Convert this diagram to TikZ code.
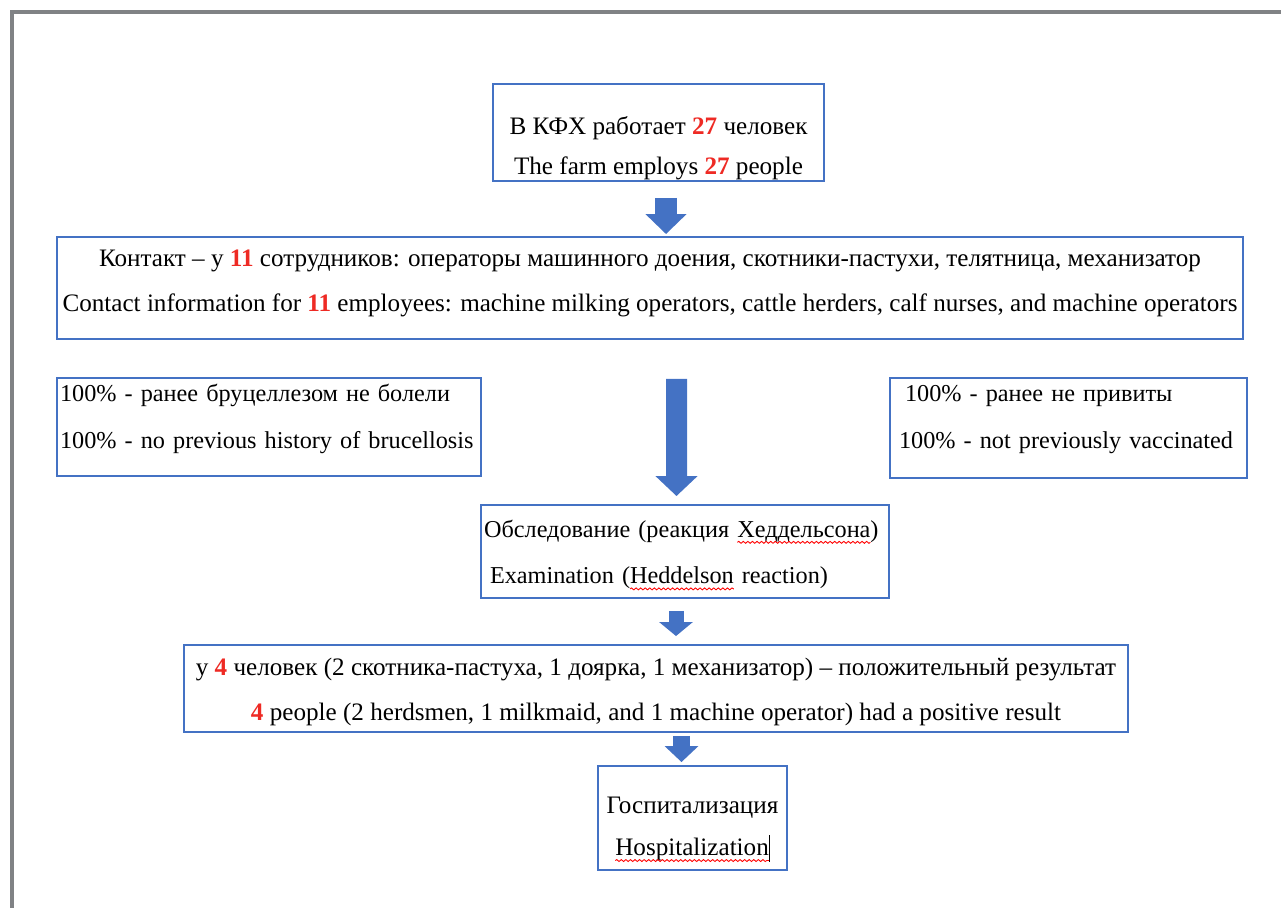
\documentclass[tikz,border=0pt]{standalone}
\usepackage{fontspec}
\setmainfont{Liberation Serif}
\usetikzlibrary{arrows.meta, calc, decorations.pathmorphing}

\definecolor{boxblue}{HTML}{4472C4}
\definecolor{numred}{HTML}{EE2A24}
\definecolor{framegray}{HTML}{808285}

\newcommand{\rednum}[1]{\textcolor{numred}{\textbf{#1}}}
\newcommand{\spellmark}[1]{\tikz[baseline=(w.base), x=1cm, y=1cm]{\node[inner sep=0pt, outer sep=0pt, minimum width=0pt, minimum height=0pt, text width=, align=none] (w) {#1};
  \draw[red, line width=0.5pt, overlay, decorate, decoration={snake, amplitude=0.55pt, segment length=2.6pt}] ([yshift=-3pt]w.base west) -- ([yshift=-3pt]w.base east);}}

\begin{document}
\begin{tikzpicture}[
    x=0.02cm, y=-0.02cm,
    box/.style={draw=boxblue, line width=1.1pt, rectangle, inner sep=2pt, align=center, font=\fontsize{14.3}{25.5}\selectfont},
    sidebox/.style={box, align=left, font=\fontsize{13.8}{26.5}\selectfont},
    blockarrow/.style n args={3}{boxblue, line width=#1, -{Triangle[width=#2, length=#3]}}
]
\useasboundingbox (0,0) rectangle (1281,908);

% frame of the screenshot
\draw[framegray, line width=2.3pt] (12,908) -- (12,12) -- (1281,12);

\node[box, inner ysep=0pt, minimum width=6.62cm, minimum height=1.94cm] (farm) at (658.5,132.5) {\rule{0pt}{28pt}В КФХ работает \rednum{27} человек\\[-3pt]
The farm employs \rednum{27} people};

\node[box, minimum width=23.72cm, minimum height=2.04cm] (contact) at (650,288) {Контакт – у \rednum{11} сотрудников: операторы машинного доения, скотники-пастухи, телятница, механизатор\\
Contact information for \rednum{11} employees: machine milking operators, cattle herders, calf nurses, and machine operators\rule[-8pt]{0pt}{8pt}};

\node[sidebox, text width=8.36cm, inner xsep=0.06cm, minimum height=1.96cm] (history) at (269,427) {100\% - ранее бруцеллезом не болели\\
100\% - no previous history of brucellosis\rule[-12pt]{0pt}{12pt}};

\node[sidebox, text width=6.78cm, inner xsep=0.18cm, minimum height=2cm] (vaccine) at (1068.5,428) {\hspace*{0.12cm}100\% - ранее не привиты\\
100\% - not previously vaccinated\rule[-12.5pt]{0pt}{12.5pt}};

\node[sidebox, text width=8.04cm, inner xsep=0.06cm, minimum height=1.86cm] (exam) at (685,551.5) {\rule{0pt}{13pt}Обследование (реакция \spellmark{Хеддельсона})\\
\hspace*{0.12cm}Examination (\spellmark{Heddelson} reaction)};

\node[box, minimum width=18.88cm, minimum height=1.74cm] (result) at (656,688.5) {\rule{0pt}{13.5pt}у \rednum{4} человек (2 скотника-пастуха, 1 доярка, 1 механизатор) – положительный результат\\
\rednum{4} people (2 herdsmen, 1 milkmaid, and 1 machine operator) had a positive result};

\node[box, minimum width=3.78cm, minimum height=2.08cm] (hosp) at (692.5,818) {\rule{0pt}{22pt}Госпитализация\\[-1.5pt]
\spellmark{Hospitalization}\rule[-0.25em]{0.5pt}{1.05em}};

% block arrows
\draw[blockarrow={0.44cm}{0.8cm}{0.4cm}] ($(farm.south)+(7.5,16)$) -- ($(farm.south |- contact.north)+(7.5,-2)$);
\draw[blockarrow={0.42cm}{0.82cm}{0.4cm}] ($(contact.south)+(26.5,39)$) -- ($(exam.north)+(-8.5,-8)$);
\draw[blockarrow={0.3cm}{0.66cm}{0.28cm}] ($(exam.south)+(-9,12)$) -- ($(result.north)+(20,-8)$);
\draw[blockarrow={0.34cm}{0.66cm}{0.32cm}] ($(result.south)+(25.5,3)$) -- ($(hosp.north)+(-11,-3)$);

\end{tikzpicture}
\end{document}
